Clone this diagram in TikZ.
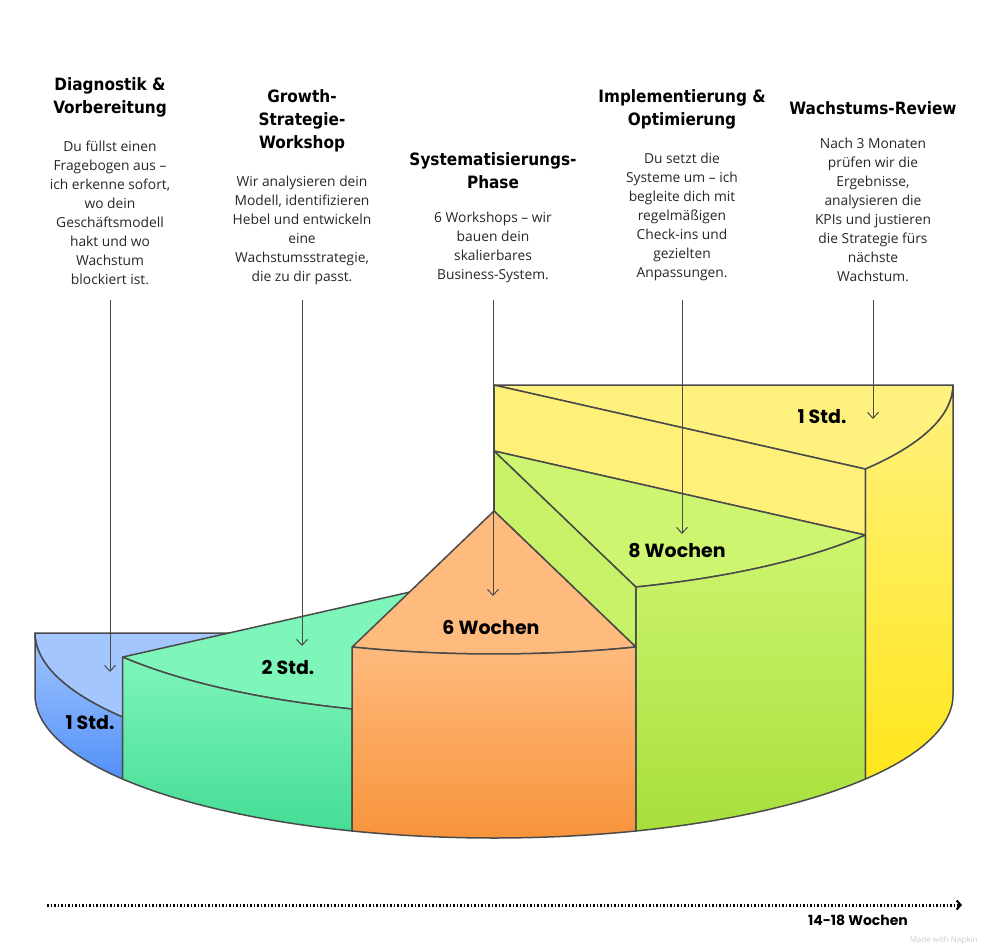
\documentclass[tikz,border=0pt]{standalone}
\usepackage{fontspec}
\setmainfont{Open Sans}
\newfontfamily\titlefont{DejaVu Sans Condensed}
\newfontfamily\labelfont{Poppins}
\usetikzlibrary{arrows.meta, positioning}
\definecolor{edge}{HTML}{4A4A4A}
\definecolor{bluetop}{HTML}{A3C6FF}
\definecolor{bluebot}{HTML}{5290F7}
\definecolor{greentop}{HTML}{7EF5B9}
\definecolor{greenbot}{HTML}{45DD95}
\definecolor{orangetop}{HTML}{FFBA7D}
\definecolor{orangebot}{HTML}{F7943B}
\definecolor{limetop}{HTML}{CDF56F}
\definecolor{limebot}{HTML}{A8DF3B}
\definecolor{yellowtop}{HTML}{FFF17E}
\definecolor{yellowbot}{HTML}{FFE61C}
\tikzset{
    face/.style={draw=edge, line width=1.5pt, line join=round},
    title/.style={font=\titlefont\bfseries\fontsize{17}{23}\selectfont, align=center, anchor=north},
    body/.style={font=\fontsize{13.8}{19}\selectfont, align=center, text=black!85, inner sep=0pt},
    steplabel/.style={font=\labelfont\bfseries\fontsize{19}{22}\selectfont},
    pointer/.style={draw=edge, line width=1pt, -{Straight Barb[length=6pt,width=11pt]}},
    rim/.style={domain=#1, samples=40}
}
\begin{document}
\begin{tikzpicture}[x=1pt, y=-1pt]
\useasboundingbox (0,0) rectangle (983,946);

% yellow step
\path[face, fill=yellowtop] (494,385) -- (953,385) -- plot[rim=0:36] ({494+459*cos(\x)},{385+143*sin(\x)}) -- cycle;
\path[face, top color=yellowtop, bottom color=yellowbot] plot[rim=0:36] ({494+459*cos(\x)},{385+143*sin(\x)}) -- plot[rim=36:0] ({494+459*cos(\x)},{695+143*sin(\x)}) -- cycle;
\path[face, fill=yellowtop!95!yellowbot] (494,385) -- ({494+459*cos(36)},{385+143*sin(36)}) -- ({494+459*cos(36)},{451+143*sin(36)}) -- (494,451) -- cycle;
% light green step
\path[face, fill=limetop] (494,451) -- plot[rim=36:72] ({494+459*cos(\x)},{451+143*sin(\x)}) -- cycle;
\path[face, top color=limetop, bottom color=limebot] plot[rim=36:72] ({494+459*cos(\x)},{451+143*sin(\x)}) -- plot[rim=72:36] ({494+459*cos(\x)},{695+143*sin(\x)}) -- cycle;
\path[face, fill=limetop!85!limebot] (494,451) -- ({494+459*cos(72)},{451+143*sin(72)}) -- ({494+459*cos(72)},{511+143*sin(72)}) -- (494,511) -- cycle;
% blue step
\path[face, fill=bluetop] (494,633) -- (35,633) -- plot[rim=180:144] ({494+459*cos(\x)},{633+143*sin(\x)}) -- cycle;
\path[face, top color=bluetop, bottom color=bluebot] plot[rim=180:144] ({494+459*cos(\x)},{633+143*sin(\x)}) -- plot[rim=144:180] ({494+459*cos(\x)},{695+143*sin(\x)}) -- cycle;
% green step
\path[face, fill=greentop] (494,573) -- plot[rim=144:108] ({494+459*cos(\x)},{573+143*sin(\x)}) -- cycle;
\path[face, top color=greentop, bottom color=greenbot] plot[rim=144:108] ({494+459*cos(\x)},{573+143*sin(\x)}) -- plot[rim=108:144] ({494+459*cos(\x)},{695+143*sin(\x)}) -- cycle;
% orange step
\path[face, fill=orangetop] (494,511) -- plot[rim=72:108] ({494+459*cos(\x)},{511+143*sin(\x)}) -- cycle;
\path[face, top color=orangetop, bottom color=orangebot] plot[rim=72:108] ({494+459*cos(\x)},{511+143*sin(\x)}) -- plot[rim=108:72] ({494+459*cos(\x)},{695+143*sin(\x)}) -- cycle;

% step labels
\node (l1) [steplabel] at (90,723) {1 Std.};
\node (l2) [steplabel] at (288,667) {2 Std.};
\node (l3) [steplabel] at (491,627) {6 Wochen};
\node (l4) [steplabel] at (677,551) {8 Wochen};
\node (l5) [steplabel] at (822,417) {1 Std.};

% phase texts
\node (t1) [title] at (110,74) {Diagnostik \&\\Vorbereitung};
\node (b1) [body, below=20pt of t1] {Du füllst einen\\Fragebogen aus –\\ich erkenne sofort,\\wo dein\\Geschäftsmodell\\hakt und wo\\Wachstum\\blockiert ist.};
\node (t2) [title] at (302,86) {Growth-\\Strategie-\\Workshop};
\node (b2) [body, below=20pt of t2] {Wir analysieren dein\\Modell, identifizieren\\Hebel und entwickeln\\eine\\Wachstumsstrategie,\\die zu dir passt.};
\node (t3) [title] at (493,149) {Systematisierungs-\\Phase};
\node (b3) [body, below=20pt of t3] {6 Workshops – wir\\bauen dein\\skalierbares\\Business-System.};
\node (t4) [title] at (682,86) {Implementierung \&\\Optimierung};
\node (b4) [body, below=20pt of t4] {Du setzt die\\Systeme um – ich\\begleite dich mit\\regelmäßigen\\Check-ins und\\gezielten\\Anpassungen.};
\node (t5) [title] at (873,98) {Wachstums-Review};
\node (b5) [body, below=20pt of t5] {Nach 3 Monaten\\prüfen wir die\\Ergebnisse,\\analysieren die\\KPIs und justieren\\die Strategie fürs\\nächste\\Wachstum.};

% pointers
\coordinate (s1) at (110,300); \coordinate (e1) at (110,672);
\coordinate (s2) at (302,300); \coordinate (e2) at (302,646);
\coordinate (s3) at (493,300); \coordinate (e3) at (493,596);
\coordinate (s4) at (682,300); \coordinate (e4) at (682,534);
\coordinate (s5) at (873,300); \coordinate (e5) at (873,419);
\foreach \i in {1,...,5}
    \draw[pointer] (s\i) -- (e\i);

% timeline
\coordinate (tl0) at (47,905);
\coordinate (tl1) at (962,905);
\draw[line width=3pt, dash pattern=on 1.5pt off 2pt, -{Straight Barb[length=4pt,width=9pt,line width=2pt]}] (tl0) -- (tl1);
\node (span) [font=\labelfont\bfseries\fontsize{14}{16}\selectfont] at (858,920) {14-18 Wochen};
\node (mark) [font=\fontsize{8}{9}\selectfont, text=black!20, anchor=east] at (981,940) {Made with Napkin};

\end{tikzpicture}
\end{document}
